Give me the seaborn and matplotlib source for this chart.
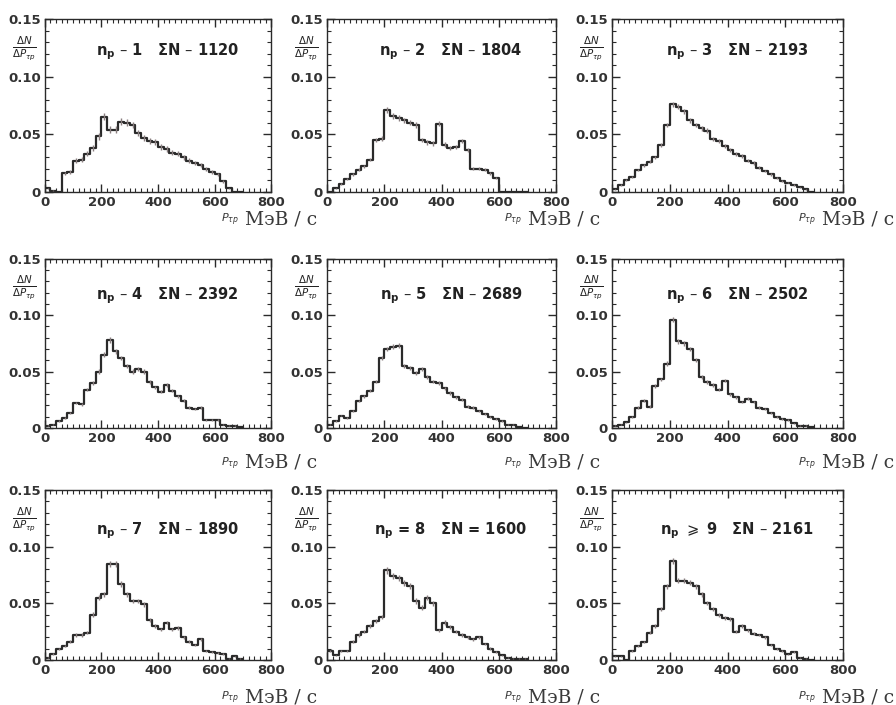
import numpy as np
import pandas as pd
import matplotlib
matplotlib.use("Agg")
import matplotlib.pyplot as plt
import seaborn as sns
from matplotlib.ticker import MultipleLocator, FixedLocator

# bin edges in MeV/c, 20 MeV/c wide
BIN_EDGES = list(range(0, 720, 20))

# dN/dP per panel
np1 = [0.003, 0.001, 0.0, 0.016, 0.017, 0.027, 0.028, 0.033, 0.038, 0.048,
       0.065, 0.054, 0.054, 0.061, 0.060, 0.058, 0.051, 0.047, 0.044, 0.043,
       0.039, 0.037, 0.034, 0.033, 0.030, 0.027, 0.025, 0.023, 0.020, 0.017,
       0.015, 0.009, 0.003, 0.0, 0.0]
np2 = [0.0, 0.003, 0.007, 0.011, 0.015, 0.019, 0.022, 0.028, 0.045, 0.046,
       0.071, 0.066, 0.064, 0.062, 0.060, 0.058, 0.045, 0.043, 0.042, 0.059,
       0.041, 0.038, 0.039, 0.044, 0.036, 0.020, 0.020, 0.019, 0.016, 0.012,
       0.0, 0.0, 0.0, 0.0, 0.0]
np3 = [0.002, 0.006, 0.010, 0.013, 0.019, 0.023, 0.026, 0.030, 0.041, 0.058,
       0.076, 0.074, 0.070, 0.062, 0.058, 0.055, 0.053, 0.046, 0.044, 0.040,
       0.036, 0.033, 0.031, 0.027, 0.025, 0.021, 0.018, 0.015, 0.012, 0.009,
       0.008, 0.006, 0.004, 0.002, 0.0]
np4 = [0.002, 0.003, 0.006, 0.009, 0.013, 0.022, 0.021, 0.034, 0.040, 0.050,
       0.065, 0.078, 0.068, 0.062, 0.055, 0.050, 0.052, 0.050, 0.041, 0.036,
       0.032, 0.038, 0.033, 0.028, 0.024, 0.018, 0.017, 0.018, 0.007, 0.007,
       0.007, 0.003, 0.002, 0.002, 0.001]
np5 = [0.003, 0.006, 0.011, 0.009, 0.015, 0.024, 0.028, 0.033, 0.041, 0.062,
       0.070, 0.072, 0.073, 0.055, 0.053, 0.049, 0.052, 0.045, 0.041, 0.040,
       0.035, 0.031, 0.027, 0.025, 0.019, 0.018, 0.015, 0.012, 0.010, 0.008,
       0.006, 0.003, 0.003, 0.001, 0.0]
np6 = [0.002, 0.003, 0.005, 0.010, 0.018, 0.024, 0.019, 0.037, 0.043, 0.057,
       0.096, 0.077, 0.075, 0.070, 0.060, 0.045, 0.041, 0.038, 0.034, 0.042,
       0.030, 0.027, 0.023, 0.026, 0.023, 0.018, 0.017, 0.013, 0.010, 0.008,
       0.007, 0.004, 0.002, 0.002, 0.001]
np7 = [0.002, 0.005, 0.010, 0.012, 0.016, 0.022, 0.022, 0.024, 0.040, 0.055,
       0.058, 0.085, 0.085, 0.067, 0.058, 0.052, 0.052, 0.049, 0.035, 0.030,
       0.027, 0.033, 0.027, 0.028, 0.020, 0.016, 0.013, 0.018, 0.008, 0.007,
       0.006, 0.005, 0.001, 0.003, 0.001]
np8 = [0.008, 0.004, 0.008, 0.008, 0.016, 0.022, 0.025, 0.030, 0.034, 0.038,
       0.079, 0.074, 0.072, 0.068, 0.065, 0.052, 0.046, 0.055, 0.050, 0.026,
       0.033, 0.029, 0.025, 0.022, 0.020, 0.018, 0.020, 0.014, 0.010, 0.007,
       0.004, 0.002, 0.001, 0.001, 0.001]
np9 = [0.003, 0.003, 0.0, 0.008, 0.012, 0.016, 0.024, 0.030, 0.045, 0.065,
       0.087, 0.070, 0.070, 0.068, 0.065, 0.058, 0.050, 0.045, 0.040, 0.037,
       0.036, 0.025, 0.030, 0.026, 0.023, 0.022, 0.020, 0.013, 0.010, 0.008,
       0.005, 0.007, 0.002, 0.001, 0.0]

PANELS = [np1, np2, np3, np4, np5, np6, np7, np8, np9]
TOTALS = [1120, 1804, 2193, 2392, 2689, 2502, 1890, 1600, 2161]
NP_SIGN = ["–", "–", "–", "–", "–", "–", "–", "=", r"$\geqslant$"]
NP_VALUE = ["1", "2", "3", "4", "5", "6", "7", "8", "9"]
SUM_SEP = ["–", "–", "–", "–", "–", "–", "–", "=", "–"]

X_TICKS = [0, 200, 400, 600, 800]
Y_TICKS = [0, 0.05, 0.10, 0.15]
Y_TICK_LABELS = ["0", "0.05", "0.10", "0.15"]

sns.set_style("ticks")
plt.rcParams["font.family"] = ["DejaVu Sans"]
plt.rcParams["mathtext.fontset"] = "dejavusans"

INK = "#2a2a2a"

fig = plt.figure(figsize=(8.96, 7.05), dpi=100)

col_left = [0.050, 0.365, 0.683]
col_width = [0.253, 0.256, 0.258]
row_bottom = [0.728, 0.393, 0.064]
row_height = [0.245, 0.240, 0.241]
xlabel_y = [-0.16, -0.205, -0.22]
xlabel_x = [1.20, 1.19, 1.22]
note_y = [0.81, 0.78, 0.76]

centers = np.array(BIN_EDGES[:-1]) + 10

for i, vals in enumerate(PANELS):
    r, c = divmod(i, 3)
    ax = fig.add_axes([col_left[c], row_bottom[r], col_width[c], row_height[r]])

    df = pd.DataFrame({"p": centers, "w": vals})
    sns.histplot(data=df, x="p", weights="w", bins=BIN_EDGES, element="step",
                 fill=False, color=INK, linewidth=1.6, ax=ax)

    # statistical error bars: n = v * N * dP
    v = np.array(vals)
    err = np.sqrt(v / (TOTALS[i] * 20.0))
    mask = v > 0
    ax.errorbar(centers[mask], v[mask], yerr=err[mask] * 1.8, fmt="none",
                ecolor="#8a7f80", elinewidth=1.0)

    ax.set_xlim(0, 800)
    ax.set_ylim(0, 0.15)
    ax.set_xlabel("")
    ax.set_ylabel("")
    ax.xaxis.set_major_locator(FixedLocator(X_TICKS))
    ax.xaxis.set_minor_locator(MultipleLocator(20))
    ax.yaxis.set_major_locator(FixedLocator(Y_TICKS))
    ax.yaxis.set_minor_locator(MultipleLocator(0.01))
    ax.set_yticklabels(Y_TICK_LABELS)
    ax.tick_params(which="both", direction="in", top=True, right=True,
                   colors=INK, labelsize=9.5, pad=3)
    ax.tick_params(which="major", length=6, width=1)
    ax.tick_params(which="minor", length=3, width=0.8)
    for lab in ax.get_xticklabels() + ax.get_yticklabels():
        lab.set_fontweight("bold")
        lab.set_color("#333333")
    for sp in ax.spines.values():
        sp.set_color(INK)
        sp.set_linewidth(1.0)

    note = (r"$\mathbf{n}_\mathbf{p}$" + f" {NP_SIGN[i]} {NP_VALUE[i]}   "
            f"ΣN {SUM_SEP[i]} {TOTALS[i]}")
    ax.text(0.54, note_y[r], note, transform=ax.transAxes, ha="center",
            va="center", fontsize=10.5, fontweight="bold", color="#222222")

    # dN/dP fraction between the 0.15 and 0.10 labels
    ax.text(-0.09, 0.83, r"$\frac{\Delta N}{\Delta P_{\tau p}}$",
            transform=ax.transAxes, ha="center", va="center",
            fontsize=10.5, color="#222222")

    unit = ax.text(xlabel_x[c], xlabel_y[r], "МэВ / с", transform=ax.transAxes,
                   ha="right", va="center", fontsize=13.5, color="#3a3a3a",
                   family=["DejaVu Serif"])
    ax.annotate(r"$P_{\tau p}$", xy=(0, 0.45), xycoords=unit,
                xytext=(-4, 0), textcoords="offset points", ha="right",
                va="center", fontsize=8, color="#3a3a3a")

fig.savefig("out.png", dpi=100)
